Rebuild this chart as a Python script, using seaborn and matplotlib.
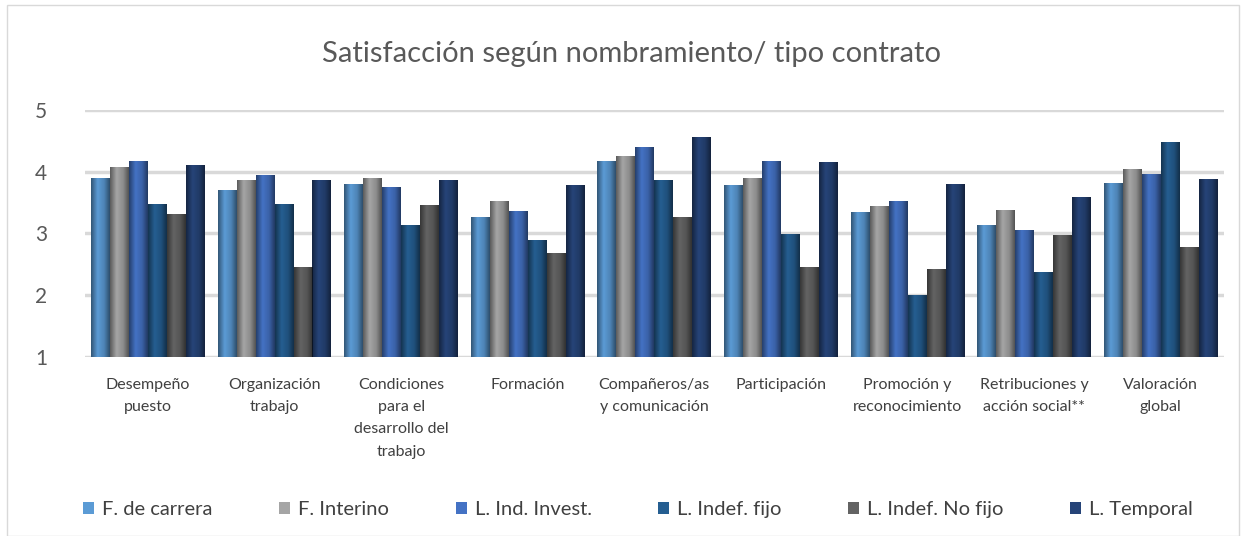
import numpy as np
import pandas as pd
import matplotlib.pyplot as plt
import seaborn as sns
from matplotlib.patches import Rectangle

categorias = ["Desempeño\npuesto", "Organización\ntrabajo",
              "Condiciones\npara el\ndesarrollo del\ntrabajo", "Formación",
              "Compañeros/as\ny comunicación", "Participación",
              "Promoción y\nreconocimiento", "Retribuciones y\nacción social**",
              "Valoración\nglobal"]
series = ["F. de carrera", "F. Interino", "L. Ind. Invest.",
          "L. Indef. fijo", "L. Indef. No fijo", "L. Temporal"]

f_carrera = [3.90, 3.70, 3.80, 3.26, 4.17, 3.78, 3.34, 3.14, 3.82]
f_interino = [4.08, 3.87, 3.90, 3.53, 4.25, 3.89, 3.45, 3.38, 4.05]
l_ind_invest = [4.17, 3.95, 3.75, 3.36, 4.40, 4.18, 3.53, 3.05, 3.97]
l_indef_fijo = [3.48, 3.48, 3.13, 2.89, 3.87, 2.99, 2.01, 2.38, 4.48]
l_indef_nofijo = [3.31, 2.46, 3.46, 2.68, 3.27, 2.46, 2.43, 2.97, 2.78]
l_temporal = [4.10, 3.86, 3.86, 3.79, 4.56, 4.15, 3.80, 3.59, 3.88]

colores = ["#5B9BD5", "#A5A5A5", "#4472C4", "#255E91", "#636363", "#264478"]

valores = [f_carrera, f_interino, l_ind_invest, l_indef_fijo, l_indef_nofijo, l_temporal]
df = pd.DataFrame([
    {"categoria": c, "serie": s, "valor": v}
    for s, vals in zip(series, valores)
    for c, v in zip(categorias, vals)
])

sns.set_style("white")
plt.rcParams["font.family"] = ["Lato", "DejaVu Sans"]

fig = plt.figure(figsize=(12.44, 5.36), dpi=100)
ax = fig.add_axes([0.068, 0.334, 0.916, 0.461])

sns.barplot(data=df, x="categoria", y="valor", hue="serie", order=categorias,
            hue_order=series, palette=colores, width=0.9, saturation=1,
            edgecolor="none", ax=ax, legend=True)

# cylinder-like shading
grad = np.linspace(0, 1, 64)
shade = np.interp(grad, [0, 0.35, 0.7, 1], [0.45, 0.0, 0.15, 0.5])
img = np.zeros((1, 64, 4))
img[0, :, 3] = shade
for p in ax.patches[:len(categorias) * len(series)]:
    x0, y0 = p.get_x(), p.get_y()
    w, h = p.get_width(), p.get_height()
    im = ax.imshow(img, extent=[x0, x0 + w, 1, y0 + h], aspect="auto",
                   zorder=p.get_zorder() + 0.1, interpolation="bilinear")
    im.set_clip_path(p)

ax.set_ylim(1, 5)
ax.set_xlim(-0.5, len(categorias) - 0.5)
ax.set_yticks([1, 2, 3, 4, 5])
ax.yaxis.grid(True, color="#D9D9D9", linewidth=2.5)
ax.set_axisbelow(True)
sns.despine(ax=ax, left=True, bottom=True)
ax.set_xlabel("")
ax.set_ylabel("")
ax.tick_params(axis="x", length=0, pad=15, labelsize=11.5, labelcolor="#404040")
ax.tick_params(axis="y", length=0, pad=27, labelsize=15, labelcolor="#595959")
for lbl in ax.get_xticklabels():
    lbl.set_verticalalignment("top")
    lbl.set_linespacing(1.75)

handles, labels = ax.get_legend_handles_labels()
ax.get_legend().remove()
fig.legend(handles, labels, loc="center", bbox_to_anchor=(0.513, 0.05), ncol=6,
           frameon=False, fontsize=14.5, handlelength=0.55, handleheight=0.55,
           handletextpad=0.4, columnspacing=3.3, labelcolor="#404040")

fig.text(0.508, 0.9, "Satisfacción según nombramiento/ tipo contrato",
         ha="center", va="center", fontsize=21, color="#595959")

fig.patches.append(Rectangle((0.006, 0.0), 0.99, 0.99, transform=fig.transFigure,
                             fill=False, edgecolor="#D9D9D9", linewidth=1))

fig.savefig("out.png", dpi=100)
